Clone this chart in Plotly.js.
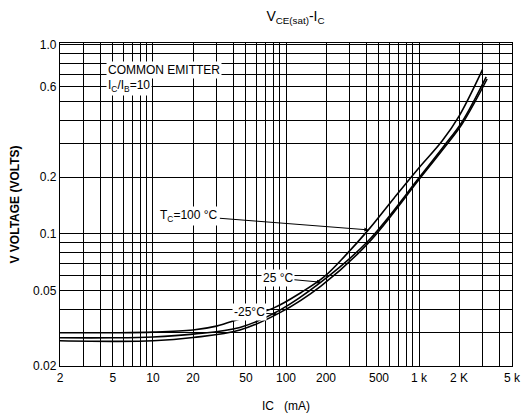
<!DOCTYPE html>
<html>
<head>
<meta charset="utf-8">
<script src="https://cdn.plot.ly/plotly-3.0.1.min.js"></script>
<style>html,body{margin:0;padding:0;background:#fff;}#chart{width:523px;height:418px;}</style>
</head>
<body>
<div id="chart"></div>
<script>
// Collector current (mA) and saturation voltage (V) for each case temperature
const ic100 = [2, 5, 10, 20, 30, 45, 81, 130, 193, 280, 416, 650, 1000, 1490, 2000, 3000];
const v100  = [0.030, 0.030, 0.0302, 0.031, 0.0325, 0.0355, 0.0406, 0.049, 0.0592, 0.077, 0.105, 0.155, 0.224, 0.31, 0.42, 0.74];
const ic25  = [2, 5, 10, 20, 45, 90, 183, 416, 1000, 1530, 2100, 3200];
const v25   = [0.0282, 0.0282, 0.0285, 0.0295, 0.032, 0.0395, 0.0555, 0.092, 0.198, 0.29, 0.39, 0.677];
const icM25 = [2, 5, 10, 20, 45, 90, 183, 416, 1000, 1530, 2100, 3250];
const vM25  = [0.0272, 0.027, 0.0272, 0.0283, 0.031, 0.0383, 0.053, 0.0895, 0.194, 0.283, 0.38, 0.66];

// Axis tick labels
const xTickVals = [2, 5, 10, 20, 50, 100, 200, 500, 1000, 2000, 5000];
const xTickText = ["2", "5", "10", "20", "50", "100", "200", "500", "1 k", "2 K", "5 k"];
const yTickVals = [0.02, 0.05, 0.1, 0.2, 0.6, 1.0];
const yTickText = ["0.02", "0.05", "0.1", "0.2", "0.6", "1.0"];

// Label annotations: [text, IC, V of arrow head, pixel offset x, y]
const labels = [
  ["T<sub>C</sub>=100 °C", 416, 0.105, -179, -14],
  ["25 °C", 183, 0.0555, -43, -4],
  ["-25°C", 86, 0.0376, -28, -2]
];

function grid(lo, hi) {
  const out = [];
  for (let e = lo; e <= hi; e++) {
    for (let m = 1; m <= 9; m++) out.push(m * Math.pow(10, e));
  }
  return out;
}
const xGrid = grid(0, 3).filter(v => v >= 2 && v <= 5000);
const yGrid = grid(-2, 0).filter(v => v >= 0.0199 && v <= 1.0001);

const lineStyle = {color: "#000", width: 1.6, shape: "spline", smoothing: 1};
const traces = [
  {x: ic100, y: v100, mode: "lines", line: lineStyle, name: "100°C", hoverinfo: "skip"},
  {x: ic25, y: v25, mode: "lines", line: lineStyle, name: "25°C", hoverinfo: "skip"},
  {x: icM25, y: vM25, mode: "lines", line: lineStyle, name: "-25°C", hoverinfo: "skip"}
];

const font = {family: "Liberation Sans, Arial, sans-serif", color: "#000"};

const annotations = labels.map(l => ({
  text: l[0], x: Math.log10(l[1]), y: Math.log10(l[2]), xref: "x", yref: "y",
  ax: l[3], ay: l[4], showarrow: true, arrowhead: 2, arrowsize: 0.8, arrowwidth: 1,
  arrowcolor: "#000", bgcolor: "#fff", borderpad: 1,
  font: Object.assign({size: 12}, font)
}));
annotations.push({
  text: "COMMON EMITTER", xref: "paper", yref: "paper", x: 0.102, y: 0.915,
  xanchor: "left", yanchor: "middle", showarrow: false, bgcolor: "#fff", borderpad: 1,
  font: Object.assign({size: 12}, font)
});
annotations.push({
  text: "I<sub>C</sub>/I<sub>B</sub>=10", xref: "paper", yref: "paper", x: 0.102, y: 0.866,
  xanchor: "left", yanchor: "middle", showarrow: false, bgcolor: "#fff", borderpad: 1,
  font: Object.assign({size: 12}, font)
});

const layout = {
  width: 523, height: 418,
  margin: {l: 60, r: 11, t: 43, b: 52},
  paper_bgcolor: "#fff", plot_bgcolor: "#fff",
  showlegend: false,
  font: Object.assign({size: 12}, font),
  title: {
    text: "V<sub>CE(sat)</sub>-I<sub>C</sub>",
    x: 0.565, xref: "container", xanchor: "center",
    y: 0.962, yref: "container", yanchor: "middle",
    font: Object.assign({size: 14}, font)
  },
  xaxis: {
    type: "log", range: [Math.log10(2), Math.log10(5000)],
    tickmode: "array", tickvals: xTickVals, ticktext: xTickText,
    showgrid: true, gridcolor: "#000", gridwidth: 1,
    minor: {tickmode: "array", tickvals: xGrid, showgrid: true, gridcolor: "#000", gridwidth: 1, ticks: ""},
    showline: true, linecolor: "#000", linewidth: 1.2, mirror: true,
    ticks: "", zeroline: false,
    tickfont: Object.assign({size: 12}, font),
    title: {text: "IC   (mA)", font: Object.assign({size: 12}, font), standoff: 18}
  },
  yaxis: {
    type: "log", range: [Math.log10(0.02), 0.01],
    tickmode: "array", tickvals: yTickVals, ticktext: yTickText,
    showgrid: true, gridcolor: "#000", gridwidth: 1,
    minor: {tickmode: "array", tickvals: yGrid, showgrid: true, gridcolor: "#000", gridwidth: 1, ticks: ""},
    showline: true, linecolor: "#000", linewidth: 1.2, mirror: true,
    ticks: "", zeroline: false,
    tickfont: Object.assign({size: 12}, font),
    title: {text: "<b>V VOLTAGE (VOLTS)</b>", font: Object.assign({size: 12}, font), standoff: 10}
  },
  annotations: annotations
};

Plotly.newPlot("chart", traces, layout, {displayModeBar: false, staticPlot: true});
</script>
</body>
</html>
